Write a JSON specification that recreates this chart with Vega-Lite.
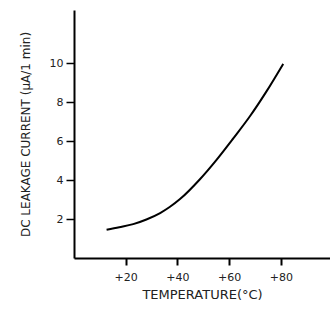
{
  "$schema": "https://vega.github.io/schema/vega-lite/v6.json",
  "autosize": {"type": "none"},
  "padding": {"left": 74, "top": 10, "right": 0, "bottom": 51},
  "width": 256,
  "height": 248,
  "background": "white",
  "config": {
    "view": {"stroke": null},
    "font": "DejaVu Sans",
    "axis": {"grid": false, "domainColor": "black", "domainWidth": 2, "tickColor": "black", "labelColor": "#222", "titleColor": "#222", "labelFont": "DejaVu Sans", "titleFont": "DejaVu Sans", "titleFontWeight": "normal", "labelFontSize": 11, "titleFontSize": 12}
  },
  "data": {
    "values": [
      {"t": 12.6, "i": 1.45},
      {"t": 17.5, "i": 1.58},
      {"t": 22.9, "i": 1.74},
      {"t": 28, "i": 1.98},
      {"t": 33.3, "i": 2.31},
      {"t": 37, "i": 2.62},
      {"t": 41.0, "i": 3.03},
      {"t": 48.7, "i": 4.05},
      {"t": 55.2, "i": 5.06},
      {"t": 61.6, "i": 6.15},
      {"t": 68.1, "i": 7.3},
      {"t": 74.5, "i": 8.58},
      {"t": 80.9, "i": 9.98}
    ]
  },
  "mark": {"type": "line", "color": "black", "strokeWidth": 2, "interpolate": "monotone"},
  "encoding": {
    "x": {
      "field": "t", "type": "quantitative",
      "scale": {"domain": [0, 99], "nice": false, "zero": false},
      "axis": {"values": [20, 40, 60, 80], "labelExpr": "'+' + datum.value", "tickSize": 7, "tickWidth": 2, "labelPadding": 6, "title": "TEMPERATURE(°C)", "titleFontSize": 13, "titlePadding": 6}
    },
    "y": {
      "field": "i", "type": "quantitative",
      "scale": {"domain": [0, 12.75], "nice": false},
      "axis": {"values": [2, 4, 6, 8, 10], "tickSize": 8, "tickWidth": 1.5, "labelPadding": 3, "title": "DC LEAKAGE CURRENT (μA/1 min)", "titlePadding": 17}
    }
  }
}
